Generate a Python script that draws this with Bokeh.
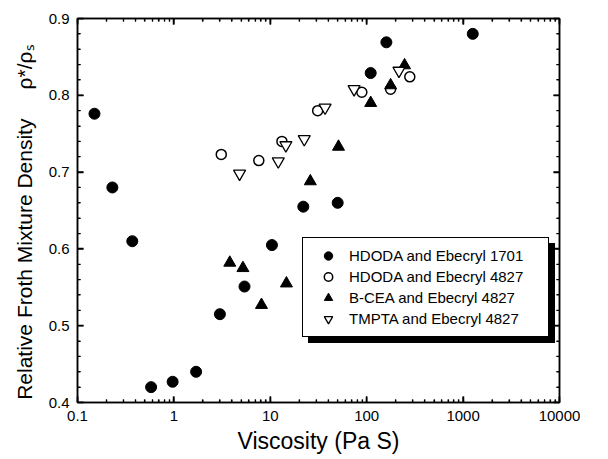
from bokeh.plotting import figure
from bokeh.models import (Range1d, LogAxis, LinearAxis, LogTicker, SingleIntervalTicker,
                          Legend, LegendItem, CustomJSTickFormatter)
from bokeh.embed import file_html
from bokeh.resources import INLINE

# ---- data ----
series_names = ["HDODA and Ebecryl 1701", "HDODA and Ebecryl 4827",
                "B-CEA and Ebecryl 4827", "TMPTA and Ebecryl 4827"]

hdoda_1701_visc = [0.15, 0.23, 0.37, 0.58, 0.97, 1.7, 3.0, 5.4, 10.4, 22, 50, 110, 160, 1260]
hdoda_1701_dens = [0.776, 0.680, 0.610, 0.420, 0.427, 0.440, 0.515, 0.551, 0.605, 0.655, 0.660, 0.829, 0.869, 0.880]

hdoda_4827_visc = [3.1, 7.6, 13.2, 31, 89, 177, 280]
hdoda_4827_dens = [0.723, 0.715, 0.740, 0.780, 0.804, 0.808, 0.824]

bcea_4827_visc = [3.8, 5.2, 8.1, 14.7, 26, 51, 110, 177, 247]
bcea_4827_dens = [0.582, 0.575, 0.527, 0.555, 0.688, 0.733, 0.790, 0.813, 0.839]

tmpta_4827_visc = [4.8, 12.1, 14.5, 22.5, 37, 74, 216]
tmpta_4827_dens = [0.698, 0.714, 0.735, 0.743, 0.784, 0.808, 0.832]

# axis limits and tick positions
x_limits = (0.1, 10000)
y_limits = (0.4, 0.9)
x_major_ticks = [0.1, 1, 10, 100, 1000, 10000]
x_minor_ticks = [m * d for d in [0.1, 1, 10, 100, 1000] for m in [2, 3, 4, 5, 6, 7, 8, 9]]
y_major_ticks = [0.4, 0.5, 0.6, 0.7, 0.8, 0.9]
y_minor_ticks = [0.42, 0.44, 0.46, 0.48, 0.52, 0.54, 0.56, 0.58, 0.62, 0.64, 0.66, 0.68,
                 0.72, 0.74, 0.76, 0.78, 0.82, 0.84, 0.86, 0.88]
x_title = "Viscosity (Pa S)"
y_title = "Relative Froth Mixture Density" + "\u00a0" * 5 + "ρ*/ρₛ" + "\u00a0" * 4

FONT = "Liberation Sans"

p = figure(width=608, height=459, x_axis_type="log",
           x_range=Range1d(*x_limits), y_range=Range1d(*y_limits),
           output_backend="svg", toolbar_location=None,
           min_border_left=77, min_border_right=49, min_border_top=18, min_border_bottom=57)
p.xgrid.visible = False
p.ygrid.visible = False
p.outline_line_color = "black"
p.outline_line_width = 1.5

bottom_ax = p.below[0]
left_ax = p.left[0]
bottom_ax.ticker = LogTicker(num_minor_ticks=10)
bottom_ax.formatter = CustomJSTickFormatter(code="return tick.toString()")
left_ax.ticker = SingleIntervalTicker(interval=0.1, num_minor_ticks=5)

empty = CustomJSTickFormatter(code="return ''")
top_ax = LogAxis(ticker=LogTicker(num_minor_ticks=10), formatter=empty)
right_ax = LinearAxis(ticker=SingleIntervalTicker(interval=0.1, num_minor_ticks=5),
                      formatter=empty)
p.add_layout(top_ax, "above")
p.add_layout(right_ax, "right")

for ax in [bottom_ax, left_ax, top_ax, right_ax]:
    ax.axis_line_color = "black"
    ax.axis_line_width = 1.5
    ax.major_tick_in = 6
    ax.major_tick_out = 0
    ax.minor_tick_in = 3
    ax.minor_tick_out = 0
    ax.major_tick_line_color = "black"
    ax.minor_tick_line_color = "black"
    ax.major_tick_line_width = 1.5
    ax.minor_tick_line_width = 1.2
    ax.major_label_text_font = FONT
    ax.major_label_text_font_size = "15px"
    ax.major_label_text_color = "black"
    ax.major_label_standoff = 8

top_ax.major_label_standoff = 0
right_ax.major_label_standoff = 0

bottom_ax.axis_label = x_title
bottom_ax.axis_label_text_font = FONT
bottom_ax.axis_label_text_font_size = "23px"
bottom_ax.axis_label_text_font_style = "normal"
bottom_ax.axis_label_text_color = "black"
bottom_ax.axis_label_standoff = 4

left_ax.axis_label = y_title
left_ax.axis_label_text_font = FONT
left_ax.axis_label_text_font_size = "21px"
left_ax.axis_label_text_font_style = "normal"
left_ax.axis_label_text_color = "black"
left_ax.axis_label_standoff = 10

# inward tick marks on all four sides: dash markers centred on the frame edges
# (the half outside the frame is clipped, leaving an inward tick)
def ticks(xs, ys, size, angle, width):
    p.scatter(x=xs, y=ys, marker="dash", size=size, angle=angle, angle_units="deg",
              line_color="black", line_width=width)

ticks(x_major_ticks, [y_limits[0]] * len(x_major_ticks), 12, 90, 1.5)
ticks(x_minor_ticks, [y_limits[0]] * len(x_minor_ticks), 6, 90, 1.2)
ticks(x_major_ticks, [y_limits[1]] * len(x_major_ticks), 12, 90, 1.5)
ticks(x_minor_ticks, [y_limits[1]] * len(x_minor_ticks), 6, 90, 1.2)
ticks([x_limits[0]] * len(y_major_ticks), y_major_ticks, 12, 0, 1.5)
ticks([x_limits[0]] * len(y_minor_ticks), y_minor_ticks, 6, 0, 1.2)
ticks([x_limits[1]] * len(y_major_ticks), y_major_ticks, 12, 0, 1.5)
ticks([x_limits[1]] * len(y_minor_ticks), y_minor_ticks, 6, 0, 1.2)

r1 = p.scatter(hdoda_1701_visc, hdoda_1701_dens, marker="circle", size=11,
               fill_color="black", line_color="black")
r2 = p.scatter(hdoda_4827_visc, hdoda_4827_dens, marker="circle", size=10,
               fill_color="white", line_color="black", line_width=1.5)
r3 = p.scatter(bcea_4827_visc, bcea_4827_dens, marker="triangle", size=12,
               fill_color="black", line_color="black")
r4 = p.scatter(tmpta_4827_visc, tmpta_4827_dens, marker="inverted_triangle", size=12,
               fill_color="white", line_color="black", line_width=1.3)
renderers = [r1, r2, r3, r4]

common = dict(padding=7, spacing=0, glyph_width=36, glyph_height=21, label_height=21,
              label_width=192, label_standoff=3, margin=0,
              label_text_font=FONT, label_text_font_size="15px",
              border_line_width=1.5, border_line_color="black",
              background_fill_alpha=1.0, border_line_alpha=1.0)

# drop shadow of the legend box: a label-less legend drawn in black, offset by a few pixels
shadow = Legend(items=[LegendItem(label="", renderers=[r]) for r in renderers],
                location=(231, 59), background_fill_color="black",
                label_text_color="black", **common)
front = Legend(items=[LegendItem(label=n, renderers=[r]) for n, r in zip(series_names, renderers)],
               location=(225, 65), background_fill_color="white",
               label_text_color="black", **common)
p.add_layout(shadow, "center")
p.add_layout(front, "center")

open("out.html", "w").write(file_html(p, INLINE))
